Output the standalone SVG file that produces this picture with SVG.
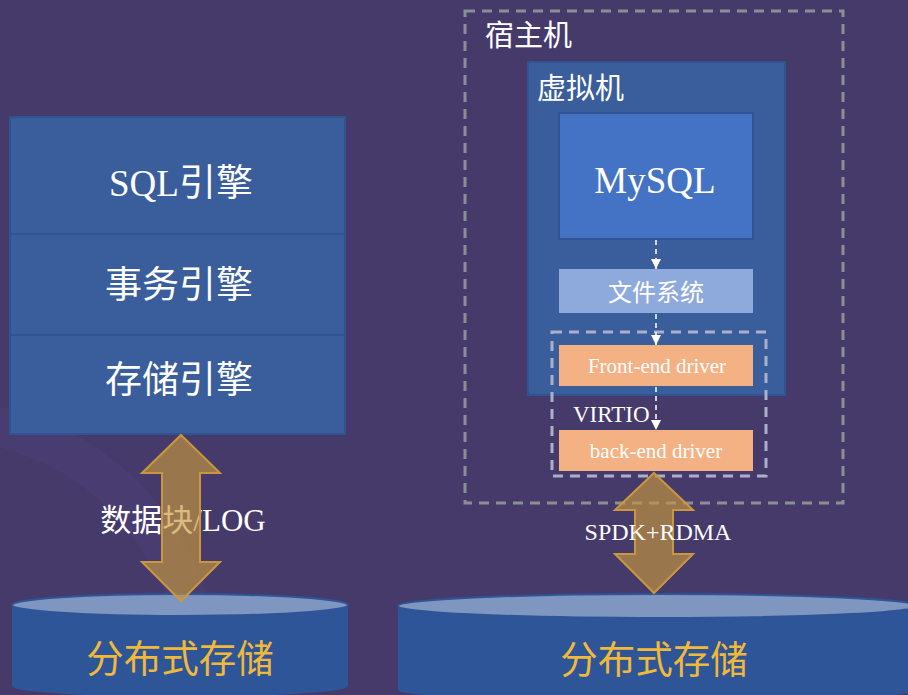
<svg xmlns="http://www.w3.org/2000/svg" width="908" height="695" viewBox="0 0 908 695">
<style>
.cjk{font-family:"Noto Sans CJK SC","Liberation Sans",sans-serif;fill:#ffffff}
.mix{font-family:"Liberation Serif","Noto Sans CJK SC",serif;fill:#ffffff}
.cell{fill:#3a5e9c;stroke:#2f5490;stroke-width:2}
.drv{fill:#f4b183}
.gold{fill:#c8963c;fill-opacity:0.65;stroke:#c9973f;stroke-width:2}
.dash{fill:none;stroke-dasharray:10 7;stroke-width:3}
.conn{stroke:#ffffff;stroke-width:1.5;stroke-dasharray:5 4;fill:none}
</style>
<defs>
<marker id="ah" viewBox="0 0 10 10" refX="10" refY="5" markerWidth="10" markerHeight="10" markerUnits="userSpaceOnUse" orient="auto">
<path d="M0,0 L10,5 L0,10 Z" fill="#ffffff"/>
</marker>
</defs>
<rect width="908" height="695" fill="#463a6b"/>
<path d="M-60,420 A260,260 0 0 1 200,690" fill="none" stroke="#51427a" stroke-width="40" opacity="0.35"/>

<g id="left-stack">
<rect class="cell" x="10" y="117" width="335" height="117"/>
<rect class="cell" x="10" y="234" width="335" height="101"/>
<rect class="cell" x="10" y="335" width="335" height="99"/>
<text class="mix" x="181" y="196" font-size="37" text-anchor="middle">SQL引擎</text>
<text class="cjk" x="179" y="298" font-size="37" text-anchor="middle">事务引擎</text>
<text class="cjk" x="179" y="393" font-size="37" text-anchor="middle">存储引擎</text>
</g>

<g id="left-label">
<text class="mix" x="183" y="531" font-size="31" text-anchor="middle"><tspan font-family="Noto Sans CJK SC,sans-serif">数据块</tspan>/LOG</text>
</g>

<g id="left-storage">
<path d="M12,605 L12,686 A168,11 0 0 0 348,686 L348,605 Z" fill="#2e5597"/>
<ellipse cx="180" cy="605" rx="168" ry="11" fill="#7f96c0" stroke="#2e5597" stroke-width="2"/>
<text class="cjk" x="180" y="672" font-size="37.5" text-anchor="middle" style="fill:#f0b93a">分布式存储</text>
</g>

<g id="right-storage">
<path d="M398,606 L398,690 A260,12 0 0 0 918,690 L918,606 Z" fill="#2e5597"/>
<ellipse cx="658" cy="606" rx="260" ry="12" fill="#7f96c0" stroke="#2e5597" stroke-width="2"/>
<text class="cjk" x="654" y="673" font-size="37.5" text-anchor="middle" style="fill:#f0b93a">分布式存储</text>
</g>

<g id="host">
<rect class="dash" x="465" y="11" width="378" height="492" stroke="#8a8f96"/>
<text class="cjk" x="485" y="46" font-size="29">宿主机</text>
</g>

<g id="vm">
<rect x="528" y="62" width="257" height="333" fill="#3a5e9c" stroke="#2f5490" stroke-width="2"/>
<text class="cjk" x="537" y="99" font-size="29">虚拟机</text>
</g>

<g id="mysql">
<rect x="559" y="113" width="194" height="126" fill="#4472c4" stroke="#2f5597" stroke-width="2"/>
<text class="mix" x="655" y="193" font-size="37" text-anchor="middle">MySQL</text>
</g>

<g id="fs">
<rect x="559" y="269" width="194" height="44" fill="#8eaadc"/>
<text class="cjk" x="656" y="301" font-size="24" text-anchor="middle">文件系统</text>
</g>

<g id="virtio">
<rect class="dash" x="552" y="332" width="214" height="144" stroke="#aab0c8"/>
<text class="mix" x="573" y="422" font-size="23">VIRTIO</text>
</g>

<g id="frontend">
<rect class="drv" x="559" y="345" width="194" height="41"/>
<text class="mix" x="657" y="373" font-size="21" text-anchor="middle">Front-end driver</text>
</g>

<g id="backend">
<rect class="drv" x="559" y="430" width="194" height="41"/>
<text class="mix" x="656" y="458" font-size="21" text-anchor="middle">back-end driver</text>
</g>

<g id="connectors">
<line class="conn" x1="656" y1="240" x2="656" y2="269" marker-end="url(#ah)"/>
<line class="conn" x1="656" y1="314" x2="656" y2="345" marker-end="url(#ah)"/>
<line class="conn" x1="656" y1="387" x2="656" y2="430" marker-end="url(#ah)"/>
<path class="gold" d="M181,435 L220,473 L200,473 L200,562 L220,562 L181,601 L142,562 L162,562 L162,473 L142,473 Z"/>
<path class="gold" d="M654,473 L693,510 L673,510 L673,554 L693,554 L654,593 L615,554 L635,554 L635,510 L615,510 Z"/>
</g>

<g id="right-label">
<text class="mix" x="658" y="540" font-size="24" text-anchor="middle">SPDK+RDMA</text>
</g>
</svg>
